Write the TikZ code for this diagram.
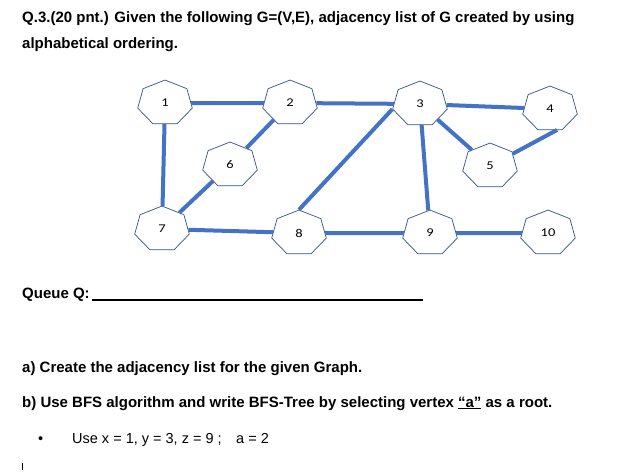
\documentclass[tikz,border=0pt]{standalone}
\usepackage{fontspec}
\setmainfont{Liberation Sans}
\newfontfamily\numfont{Carlito}
\usetikzlibrary{shapes.geometric}
\definecolor{edgeblue}{HTML}{4472C4}
\definecolor{rimblue}{HTML}{2F528F}

\begin{document}
\begin{tikzpicture}[
        x=1pt, y=-1pt,
        every node/.style={font=\fontsize{15}{18}\selectfont},
        vertex/.style={regular polygon, regular polygon sides=7, draw=rimblue, line width=0.7pt, fill=white, minimum size=56pt, inner sep=0pt, yscale=0.82, transform shape, font=\numfont\fontsize{14.5}{16}\selectfont},
        edge/.style={edgeblue, line width=4pt},
        txt/.style={anchor=base west, inner sep=0pt, font=\bfseries\fontsize{15}{18}\selectfont},
        plain/.style={anchor=base west, inner sep=0pt, font=\fontsize{14.5}{17}\selectfont}
    ]
        \useasboundingbox (0,0) rectangle (642,471);

        % heading
        \node[txt] (head1) at (22,22) {Q.3.(20 pnt.) Given the following G=(V,E), adjacency list of G created by using};
        \node[txt] (head2) at (22,48) {alphabetical ordering.};

        % vertex places
        \coordinate (p1) at (165,103);
        \coordinate (p2) at (290,103);
        \coordinate (p3) at (420,104);
        \coordinate (p4) at (550,109);
        \coordinate (p5) at (490,166);
        \coordinate (p6) at (230,165);
        \coordinate (p7) at (162,229);
        \coordinate (p8) at (299,233);
        \coordinate (p9) at (430,233);
        \coordinate (p10) at (548,233);

        \node[vertex] (v1) at (p1) {1};
        \node[vertex] (v2) at (p2) {2};
        \node[vertex] (v3) at (p3) {3};
        \node[vertex] (v4) at (p4) {4};
        \node[vertex] (v5) at (p5) {5};
        \node[vertex] (v6) at (p6) {6};
        \node[vertex] (v7) at (p7) {7};
        \node[vertex] (v8) at (p8) {8};
        \node[vertex] (v9) at (p9) {9};
        \node[vertex] (v10) at (p10) {10};

        \draw[edge] (v1) -- (v2);
        \draw[edge] (v1) -- (v7);
        \draw[edge] (v2) -- (v6);
        \draw[edge] (v6) -- (v7);
        \draw[edge] (v7) -- (v8);
        \draw[edge] (v2) -- (v3);
        \draw[edge] (v8.corner 1) -- (v3.corner 3);
        \draw[edge] (v3) -- (v4);
        \draw[edge] (v3) -- (v5);
        \draw[edge] (v5) -- ([xshift=7pt]v4.south);
        \draw[edge] (v3) -- (v9);
        \draw[edge] (v8) -- (v9);
        \draw[edge] (v9) -- (v10);

        % queue line
        \node[txt] (queue) at (22,298) {Queue Q:};
        \coordinate (qend) at (423,300);
        \draw[line width=1.5pt] (queue.base east) ++(2,2) -- (qend);

        % questions
        \node[txt] (qa) at (22,372) {a) Create the adjacency list for the given Graph.};
        \node[txt] (qb) at (22,407) {b) Use BFS algorithm and write BFS-Tree by selecting vertex \underline{“a”} as a root.};
        \node[plain] (dot) at (38,443) {•};
        \node[plain] (use) at (72,443) {Use x = 1, y = 3, z = 9 ;\quad a = 2};
        \coordinate (tick) at (22,463);
        \draw[line width=0.8pt] (tick) -- ++(0,7);
    \end{tikzpicture}
\end{document}
